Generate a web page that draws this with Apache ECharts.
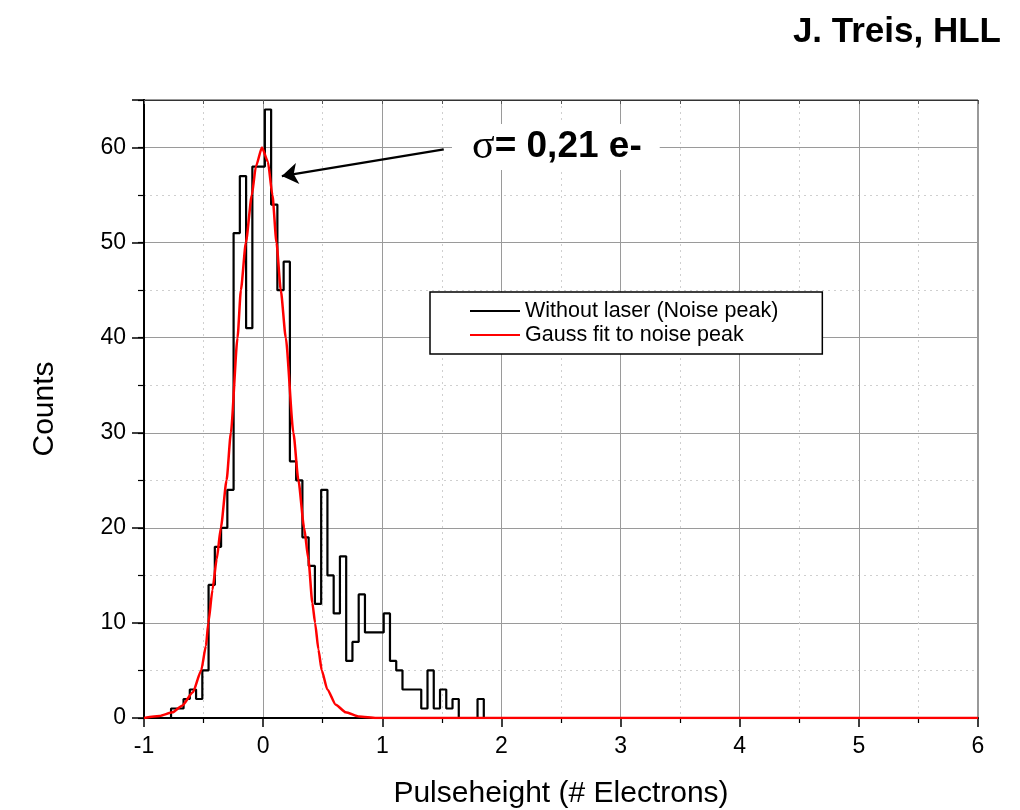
<!DOCTYPE html>
<html>
<head>
<meta charset="utf-8">
<script src="https://cdn.jsdelivr.net/npm/echarts@6/dist/echarts.min.js"></script>
<style>html,body{margin:0;padding:0;background:#fff}#c{width:1020px;height:810px}</style>
</head>
<body>
<div id="c"></div>
<script>
// ---- data ----
const binStart = -0.773;   // left edge of first non-empty bin (electrons)
const binWidth = 0.0525;   // histogram bin width (electrons)
const counts = [1,1,2,3,2,5,14,18,20,24,51,57,41,58,58,64,54,45,48,27,25,19,16,12,24,15,11,17,6,8,13,9,9,9,11,6,5,3,3,3,1,5,1,3,1,2,0,0,0,2];
const gaussX = [-1,-0.87,-0.76,-0.68,-0.59,-0.52,-0.48,-0.46,-0.425,-0.39,-0.355,-0.307,-0.271,-0.215,-0.187,-0.145,-0.095,-0.061,-0.01,0.04,0.078,0.112,0.148,0.19,0.254,0.296,0.344,0.38,0.413,0.436,0.464,0.492,0.539,0.609,0.693,0.805,0.95,1.2,6];
const gaussY = [0,0.2,0.6,1.3,2.7,5.0,7.6,10,13.5,16.7,20,25,30,40,45,50,55,58,60,58.5,55,50,45,40,30,25,20,16.7,12.1,10,7.2,5,3,1.4,0.6,0.15,0,0,0];
const xRange = [-1, 6];
const yRange = [0, 65];
const arrowFrom = [1.516, 59.8];
const arrowTo = [0.157, 57.0];
const seriesNames = ['Without laser (Noise peak)', 'Gauss fit to noise peak'];
const annotation = '= 0,21 e-';
const credit = 'J. Treis, HLL';

// ---- build series ----
const histData = [[xRange[0], 0]];
counts.forEach((c, k) => histData.push([binStart + k * binWidth, c]));
histData.push([binStart + counts.length * binWidth, 0]);
histData.push([xRange[1], 0]);
const gaussData = gaussX.map((x, i) => [x, gaussY[i]]);

const FONT = 'Liberation Sans';
const chart = echarts.init(document.getElementById('c'), null, {renderer: 'canvas'});
chart.setOption({
  animation: false,
  backgroundColor: '#fff',
  title: {text: credit, right: 14, top: 10,
    textStyle: {fontFamily: FONT, fontSize: 35, fontWeight: 'bold', color: '#000'}},
  grid: {left: 144, right: 42, top: 100, bottom: 92, containLabel: false, outerBoundsMode: 'none',
    show: true, borderColor: '#333', borderWidth: 1, backgroundColor: 'transparent'},
  legend: {
    orient: 'vertical', left: 430, top: 292,
    data: [{name: seriesNames[0], icon: 'rect'}, {name: seriesNames[1], icon: 'rect'}],
    itemWidth: 50, itemHeight: 2, itemGap: 2,
    padding: [8, 44, 8, 40],
    borderColor: '#000', borderWidth: 1.5, backgroundColor: '#fff',
    textStyle: {fontFamily: FONT, fontSize: 21.5, color: '#000'}
  },
  xAxis: [{
    type: 'value', min: xRange[0], max: xRange[1], interval: 1, position: 'bottom',
    name: 'Pulseheight (# Electrons)', nameLocation: 'middle', nameGap: 61,
    nameTextStyle: {fontFamily: FONT, fontSize: 30, color: '#000'},
    axisLine: {onZero: false, lineStyle: {color: '#000', width: 2}},
    axisTick: {length: 9, lineStyle: {color: '#000', width: 1.5}},
    minorTick: {show: true, splitNumber: 2, length: 5, lineStyle: {color: '#000', width: 1.2}},
    axisLabel: {fontFamily: FONT, fontSize: 23, color: '#000', margin: 17},
    splitLine: {show: true, lineStyle: {color: '#9a9a9a', width: 1}},
    minorSplitLine: {show: true, lineStyle: {color: '#cfcfcf', width: 1, type: [2, 4]}}
  }, {
    type: 'value', min: xRange[0], max: xRange[1], interval: 0.5, position: 'top',
    axisLine: {onZero: false, lineStyle: {color: '#333', width: 1}},
    axisTick: {inside: true, length: 4, lineStyle: {color: '#555'}},
    axisLabel: {show: false}, splitLine: {show: false}
  }],
  yAxis: [{
    type: 'value', min: yRange[0], max: yRange[1], interval: 5, position: 'left',
    axisLine: {onZero: false, lineStyle: {color: '#000', width: 2}},
    axisTick: {length: 6, lineStyle: {color: '#000', width: 1.2}},
    axisLabel: {show: false},
    splitLine: {show: true, lineStyle: {color: '#cfcfcf', width: 1, type: [2, 4]}}
  }, {
    type: 'value', min: yRange[0], max: yRange[1], interval: 10, position: 'left',
    name: 'Counts', nameLocation: 'middle', nameGap: 84, nameRotate: 90,
    nameTextStyle: {fontFamily: FONT, fontSize: 30, color: '#000'},
    axisLine: {onZero: false, lineStyle: {color: '#000', width: 2}},
    axisTick: {length: 12, lineStyle: {color: '#000', width: 1.5}},
    axisLabel: {fontFamily: FONT, fontSize: 23, color: '#000', margin: 18,
      formatter: v => (v % 10 === 0 ? String(v) : '')},
    splitLine: {show: true, lineStyle: {color: '#9a9a9a', width: 1}}
  }],
  series: [{
    name: seriesNames[0], type: 'line', step: 'end', xAxisIndex: 0, yAxisIndex: 1,
    data: histData, showSymbol: false, symbol: 'none',
    lineStyle: {color: '#000', width: 2.2}, itemStyle: {color: '#000'}, z: 3,
    markLine: {
      silent: true, symbol: ['none', 'arrow'], symbolSize: 16,
      label: {show: false},
      lineStyle: {color: '#000', width: 2.2, type: 'solid'},
      data: [[{coord: arrowFrom}, {coord: arrowTo}]]
    }
  }, {
    name: seriesNames[1], type: 'line', xAxisIndex: 0, yAxisIndex: 1,
    data: gaussData, smooth: 0.2, smoothMonotone: 'x', showSymbol: false, symbol: 'none',
    lineStyle: {color: '#ff0000', width: 2.5}, itemStyle: {color: '#ff0000'}, z: 4
  }],
  graphic: [{
    type: 'text', left: 452, top: 124, z: 100,
    style: {
      text: '{s|σ}{t|' + annotation + '}',
      backgroundColor: '#fff', padding: [2, 18, 2, 20],
      rich: {
        s: {fontFamily: 'Liberation Serif', fontSize: 42, fill: '#000'},
        t: {fontFamily: FONT, fontWeight: 'bold', fontSize: 37, fill: '#000'}
      }
    }
  }]
});
</script>
</body>
</html>
